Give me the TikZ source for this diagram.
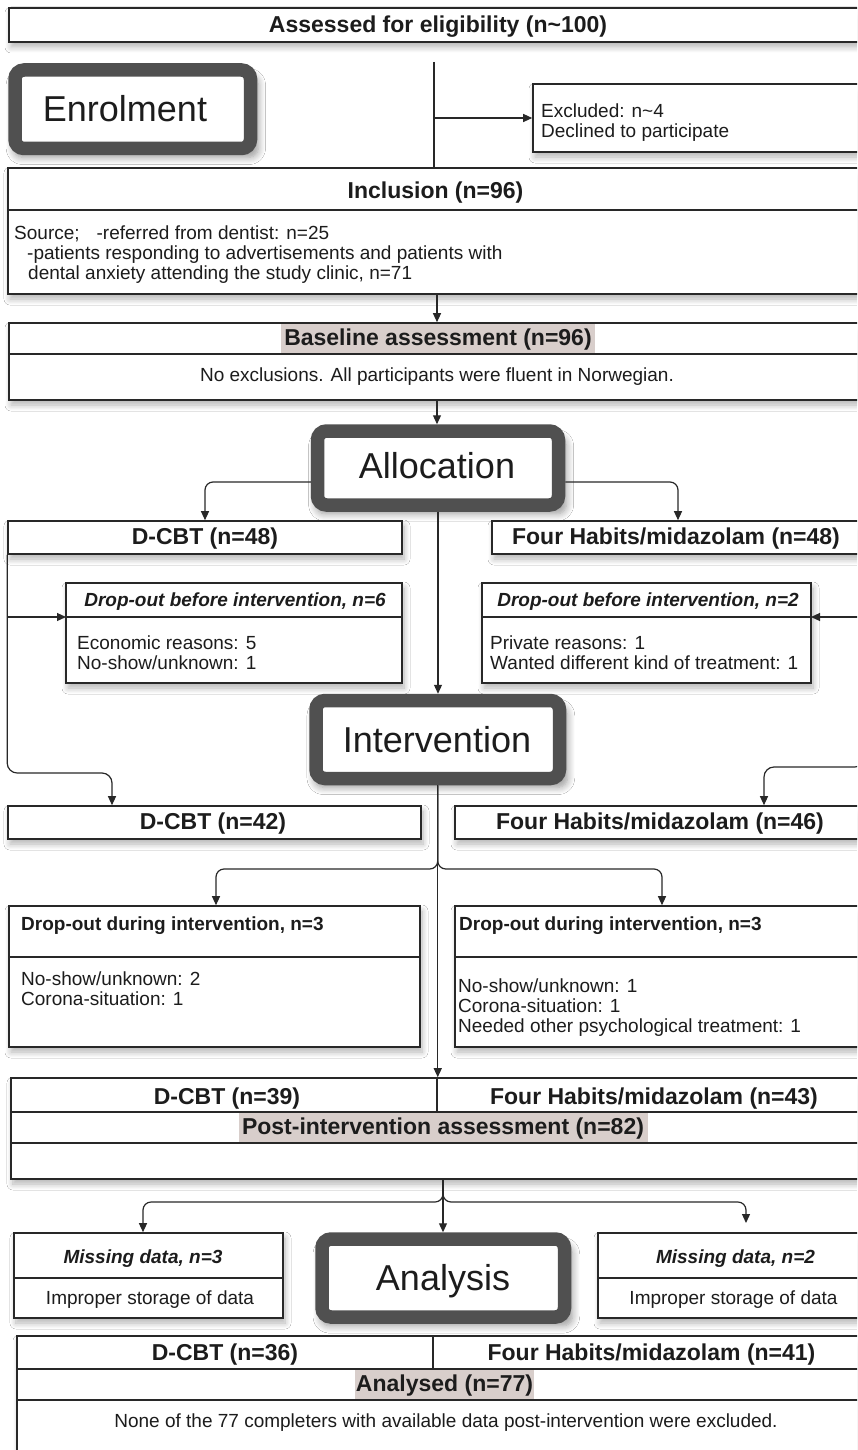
\documentclass[tikz,border=0pt]{standalone}
\usepackage{fontspec}
\setmainfont{Liberation Sans}
\usetikzlibrary{arrows.meta,fit,shadows.blur}
\definecolor{linec}{RGB}{40,40,40}
\definecolor{stagec}{RGB}{80,80,80}
\definecolor{hl}{RGB}{216,206,203}
\definecolor{txt}{RGB}{28,28,28}
\begin{document}
\begin{tikzpicture}[x=1pt,y=-1pt,
  shad/.style={blur shadow={shadow xshift=2pt, shadow yshift=-5pt, shadow blur radius=6pt, shadow blur steps=8, shadow opacity=30}},
  box/.style={draw=linec, line width=1.6pt, fill=white, inner sep=0pt, shad},
  stagebox/.style={draw=stagec, line width=13.5pt, rounded corners=9pt, fill=white, inner sep=0pt,
     blur shadow={shadow xshift=3pt, shadow yshift=-7pt, shadow blur radius=7pt, shadow blur steps=8, shadow opacity=40, shadow scale=1.04}},
  div/.style={draw=linec, line width=1.6pt},
  conn/.style={draw=linec, line width=1.2pt},
  arr/.style={conn, -{Triangle[length=9pt,width=8pt]}},
  ttl/.style={font=\fontsize{23}{26}\selectfont\bfseries, text=txt, inner sep=0pt, anchor=base},
  sttl/.style={font=\fontsize{19}{21}\selectfont\bfseries, text=txt, inner sep=0pt, anchor=base west},
  ittl/.style={font=\fontsize{19}{21}\selectfont\bfseries\itshape, text=txt, inner sep=0pt, anchor=base},
  bodyc/.style={font=\fontsize{19}{20}\selectfont, text=txt, inner sep=0pt, anchor=base},
  body/.style={font=\fontsize{19}{20}\selectfont, text=txt, inner sep=0pt, align=left, anchor=north west},
  stagetxt/.style={font=\fontsize{36}{40}\selectfont, text=txt, inner sep=0pt, anchor=base},
]
\clip (0,0) rectangle (857,1450);
\useasboundingbox (0,0) rectangle (857,1450);
\fill[white] (0,0) rectangle (857,1450);

% ---------- boxes ----------
\node[box, fit={(9,8)(866,42)}] (assess) {};
\node[box, fit={(533,84)(880,152)}] (excl) {};
\node[box, fit={(8,168)(866,294)}] (incl) {};
\node[box, fit={(9,323)(865,400)}] (base) {};
\node[box, fit={(8,521)(402,554)}] (dcbt48) {};
\node[box, fit={(492,521)(864,554)}] (fh48) {};
\node[box, fit={(66,583)(402,683)}] (dropL) {};
\node[box, fit={(482,583)(811,683)}] (dropR) {};
\node[box, fit={(8,806)(421,839)}] (dcbt42) {};
\node[box, fit={(455,806)(873,839)}] (fh46) {};
\node[box, fit={(9,906)(420,1047)}] (dropDL) {};
\node[box, fit={(455,906)(869,1047)}] (dropDR) {};
\node[box, fit={(11,1078)(875,1179)}] (post) {};
\node[box, fit={(14,1233)(283,1318)}] (missL) {};
\node[box, fit={(598,1233)(894,1318)}] (missR) {};
\node[box, fit={(17,1336)(880,1490)}] (anal) {};

% stage boxes
\node[stagebox, fit={(15,70)(250.5,148.5)}] (enrol) {};
\node[stagebox, fit={(317.5,431)(558.5,505)}] (alloc) {};
\node[stagebox, fit={(316,700.5)(559.5,778.5)}] (interv) {};
\node[stagebox, fit={(322,1239)(564.5,1317)}] (analysis) {};

% highlights and dividers
\fill[hl] (281,324) rectangle (595,353.5);
\fill[hl] (239,1112.5) rectangle (648,1142.5);
\fill[hl] (355,1369.5) rectangle (534,1399.5);
\draw[div] (8,210) -- (866,210);
\draw[div] (9,354) -- (865,354);
\draw[div] (66,617) -- (402,617);
\draw[div] (482,617) -- (811,617);
\draw[div] (9,957) -- (420,957);
\draw[div] (455,957) -- (869,957);
\draw[div] (11,1112) -- (875,1112);
\draw[div] (11,1143) -- (875,1143);
\draw[div] (437,1078) -- (437,1112);
\draw[div] (14,1278) -- (283,1278);
\draw[div] (598,1278) -- (894,1278);
\draw[div] (17,1369) -- (880,1369);
\draw[div] (17,1400) -- (880,1400);
\draw[div] (433,1336) -- (433,1369);

% ---------- connectors ----------
\coordinate (v0) at (434,62);
\draw[conn] (v0) -- (v0 |- incl.north);
\draw[arr] (v0 |- excl.west) -- (excl.west);
\draw[arr] (incl.south) -- (base.north);
\draw[arr] (base.south) -- (base.south |- alloc.north);
\draw[arr, rounded corners=8pt] ([yshift=-14pt]alloc.west) -| (dcbt48.north);
\draw[arr, rounded corners=8pt] ([yshift=-14pt]alloc.east) -| (fh48.north);
\draw[arr] (alloc.south) -- (alloc.south |- interv.north);

\coordinate (dLd) at (66,617);
\coordinate (dRd) at (811,617);
\coordinate (lturn) at (112,773);
\coordinate (rturn) at (764,767);
\draw[arr] (dLd -| dcbt48.west) -- (dLd);
\draw[arr] (dRd -| fh48.east) -- (dRd);
\draw[arr, rounded corners=10pt] (dcbt48.south west) |- (lturn) -- (lturn |- dcbt42.north);
\draw[arr, rounded corners=10pt] (fh48.south east) |- (rturn) -- (rturn |- fh46.north);

\coordinate (brL) at (216,869);
\coordinate (brR) at (662,869);
\draw[arr] (interv.south) -- (interv.south |- post.north);
\draw[arr, rounded corners=8pt] (interv.south) |- (brL) -- (brL |- dropDL.north);
\draw[arr, rounded corners=8pt] (interv.south) |- (brR) -- (brR |- dropDR.north);

\coordinate (pbL) at (143,1202);
\coordinate (pbR) at (746,1202);
\coordinate (pbRend) at (746,1223);
\draw[arr] (post.south) -- (post.south |- analysis.north);
\draw[arr, rounded corners=8pt] (post.south) |- (pbL) -- (pbL |- missL.north);
\draw[arr, rounded corners=8pt] (post.south) |- (pbR) -- (pbRend);

% ---------- texts ----------
\node[ttl] (tAssess) at (438,33) {Assessed for eligibility (n\textasciitilde100)};
\node[stagetxt] (tEnrol) at (125,122) {Enrolment};
\node[body] (tExcl) at (541,103.3) {Excluded: n\textasciitilde4\\Declined to participate};
\node[ttl] (tIncl) at (435.5,198) {Inclusion (n=96)};
\node[body] (tSrc) at (14,225.3) {Source;\hspace{17pt}-referred from dentist: n=25\\
\hspace*{13pt}-patients responding to advertisements and patients with\\
\hspace*{14pt}dental anxiety attending the study clinic, n=71};
\node[ttl] (tBase) at (438,345.3) {Baseline assessment (n=96)};
\node[bodyc] (tNoEx) at (437,381.5) {No exclusions. All participants were fluent in Norwegian.};
\node[stagetxt] (tAlloc) at (437,478) {Allocation};
\node[ttl] (tD48) at (205,544) {D-CBT (n=48)};
\node[ttl] (tF48) at (676,544) {Four Habits/midazolam (n=48)};
\node[ittl] (tDLt) at (235,606.5) {Drop-out before intervention, n=6};
\node[ittl] (tDRt) at (648,606.5) {Drop-out before intervention, n=2};
\node[body] (tDLb) at (77,636) {Economic reasons: 5\\No-show/unknown: 1};
\node[body] (tDRb) at (490,636) {Private reasons: 1\\Wanted different kind of treatment: 1};
\node[stagetxt] (tInterv) at (437,752) {Intervention};
\node[ttl] (tD42) at (213,829.5) {D-CBT (n=42)};
\node[ttl] (tF46) at (660,829.5) {Four Habits/midazolam (n=46)};
\node[sttl] (tDDLt) at (21,930.5) {Drop-out during intervention, n=3};
\node[sttl] (tDDRt) at (459,930.5) {Drop-out during intervention, n=3};
\node[body] (tDDLb) at (21,972) {No-show/unknown: 2\\Corona-situation: 1};
\node[body] (tDDRb) at (458,979) {No-show/unknown: 1\\Corona-situation: 1\\Needed other psychological treatment: 1};
\node[ttl] (tD39) at (227,1104) {D-CBT (n=39)};
\node[ttl] (tF43) at (654,1104) {Four Habits/midazolam (n=43)};
\node[ttl] (tPost) at (443,1134) {Post-intervention assessment (n=82)};
\node[ittl] (tMLt) at (143,1263) {Missing data, n=3};
\node[ittl] (tMRt) at (735.5,1263) {Missing data, n=2};
\node[bodyc] (tMLb) at (150,1304) {Improper storage of data};
\node[bodyc] (tMRb) at (733.5,1304) {Improper storage of data};
\node[stagetxt] (tAnalysis) at (443,1290) {Analysis};
\node[ttl] (tD36) at (225,1360) {D-CBT (n=36)};
\node[ttl] (tF41) at (651.5,1360) {Four Habits/midazolam (n=41)};
\node[ttl] (tAnal) at (444.5,1391.5) {Analysed (n=77)};
\node[bodyc] (tNone) at (446,1427) {None of the 77 completers with available data post-intervention were excluded.};
\end{tikzpicture}
\end{document}
